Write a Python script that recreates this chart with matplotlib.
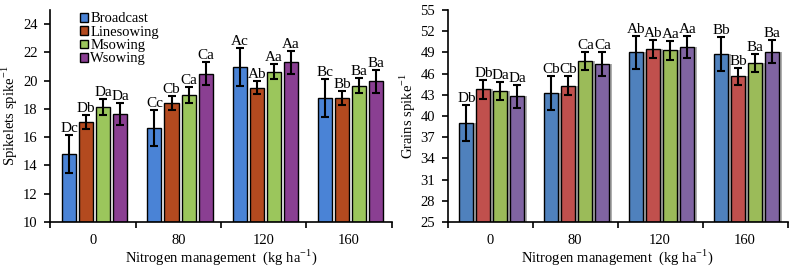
import matplotlib
matplotlib.use("Agg")
import matplotlib.pyplot as plt
import numpy as np

plt.rcParams['font.family'] = ['Liberation Serif', 'DejaVu Serif']
plt.rcParams['mathtext.fontset'] = 'custom'
plt.rcParams['mathtext.rm'] = 'Liberation Serif'

categories = ['0', '80', '120', '160']
series = ['Broadcast', 'Linesowing', 'Msowing', 'Wsowing']

# Left panel: Spikelets spike-1
spk_vals = {
    'Broadcast':  [14.8, 16.65, 21.0, 18.8],
    'Linesowing': [17.1, 18.45, 19.5, 18.8],
    'Msowing':    [18.15, 19.0, 20.65, 19.65],
    'Wsowing':    [17.65, 20.5, 21.3, 19.95],
}
spk_err = {
    'Broadcast':  [1.35, 1.3, 1.35, 1.35],
    'Linesowing': [0.5, 0.5, 0.45, 0.5],
    'Msowing':    [0.55, 0.55, 0.55, 0.55],
    'Wsowing':    [0.8, 0.8, 0.8, 0.8],
}
spk_lab = {
    'Broadcast':  ['Dc', 'Cc', 'Ac', 'Bc'],
    'Linesowing': ['Db', 'Cb', 'Ab', 'Bb'],
    'Msowing':    ['Da', 'Ca', 'Aa', 'Ba'],
    'Wsowing':    ['Da', 'Ca', 'Aa', 'Ba'],
}

# Right panel: Grains spike-1
grn_vals = {
    'Broadcast':  [39.0, 43.3, 49.0, 48.8],
    'Linesowing': [43.8, 44.3, 49.5, 45.6],
    'Msowing':    [43.5, 47.8, 49.3, 47.5],
    'Wsowing':    [42.8, 47.3, 49.8, 49.1],
}
grn_err = {
    'Broadcast':  [2.5, 2.4, 2.4, 2.4],
    'Linesowing': [1.35, 1.3, 1.25, 1.25],
    'Msowing':    [1.25, 1.3, 1.3, 1.25],
    'Wsowing':    [1.6, 1.7, 1.55, 1.6],
}
grn_lab = {
    'Broadcast':  ['Db', 'Cb', 'Ab', 'Bb'],
    'Linesowing': ['Db', 'Cb', 'Ab', 'Bb'],
    'Msowing':    ['Da', 'Ca', 'Aa', 'Ba'],
    'Wsowing':    ['Da', 'Ca', 'Aa', 'Ba'],
}

left_colors = ['#4a83d6', '#b34a1f', '#9bc65c', '#8a3f92']
right_colors = ['#4f81bd', '#c0504d', '#9bbb59', '#8064a2']

fig = plt.figure(figsize=(7.98, 2.73), dpi=100)
axL = fig.add_axes([0.063, 0.187, 0.428, 0.776])
axR = fig.add_axes([0.561, 0.187, 0.426, 0.776])

x = np.arange(len(categories))
width = 0.165
offsets = [-0.3, -0.1, 0.1, 0.3]
FS = 10.5


def draw(ax, vals, errs, labs, colors, ylim, yticks, ylabel, shadow=False, legend=False):
    for i, s in enumerate(series):
        xs = x + offsets[i] + 0.02
        if shadow:
            ax.bar(xs + 0.035, np.array(vals[s]) - ylim[0], width, bottom=ylim[0],
                   color='#9a9a9a', edgecolor='none', zorder=1, alpha=0.8)
        ax.bar(xs, np.array(vals[s]) - ylim[0], width, bottom=ylim[0], color=colors[i],
               edgecolor='black', linewidth=1.0, zorder=2, label=s)
        ax.errorbar(xs, vals[s], yerr=errs[s], fmt='none', ecolor='black',
                    elinewidth=1.5, capsize=3, capthick=1.5, zorder=3)
        for j in range(len(categories)):
            ax.text(xs[j], vals[s][j] + errs[s][j], labs[s][j],
                    ha='center', va='bottom', fontsize=FS + 0.5, zorder=4)
    ax.set_xlim(-0.5, 3.5)
    ax.set_ylim(*ylim)
    ax.set_yticks(yticks)
    ax.set_xticks(np.arange(-0.5, 3.6, 1.0))
    ax.set_xticklabels([])
    ax.set_xticks(x, minor=True)
    ax.set_xticklabels(categories, minor=True)
    ax.tick_params(axis='x', which='minor', length=0, labelsize=FS, pad=9)
    ax.tick_params(axis='x', which='major', length=4, width=1.2, direction='out')
    ax.tick_params(axis='y', labelsize=FS, length=4, width=1.2, direction='out', pad=5)
    for sp in ['top', 'right']:
        ax.spines[sp].set_visible(False)
    for sp in ['left', 'bottom']:
        ax.spines[sp].set_linewidth(1.2)
    ax.set_ylabel(ylabel, fontsize=FS, labelpad=2)
    ax.set_xlabel('Nitrogen management  (kg ha$^{-1}$)', fontsize=FS, labelpad=0)
    if legend:
        ax.legend(loc='upper left', bbox_to_anchor=(0.06, 1.03), frameon=False,
                  fontsize=FS, handlelength=0.55, handleheight=0.55, handletextpad=0.2,
                  labelspacing=0.02, borderaxespad=0.2)


draw(axL, spk_vals, spk_err, spk_lab, left_colors, (10, 25), np.arange(10, 25, 2),
     'Spikelets spike$^{-1}$', shadow=False, legend=True)
draw(axR, grn_vals, grn_err, grn_lab, right_colors, (25, 55), np.arange(25, 56, 3),
     'Grains spike$^{-1}$', shadow=True, legend=False)

fig.savefig('out.png', dpi=100)
